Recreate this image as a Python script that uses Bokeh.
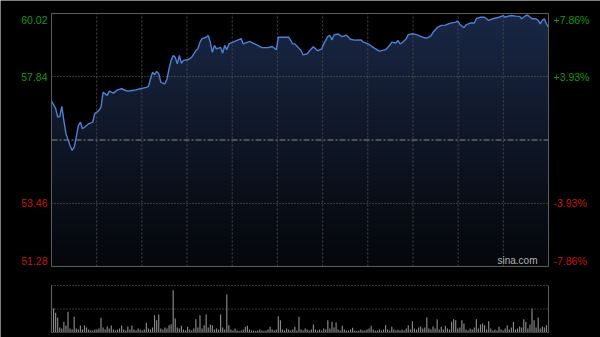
import numpy as np
from bokeh.plotting import figure
from bokeh.models import Range1d
from bokeh.core.properties import value
from bokeh.embed import file_html
from bokeh.resources import INLINE

# ---- data ----
prev_close = 55.65
price_ticks_left = [60.02, 57.84, 53.46, 51.28]
price_labels_left = ["60.02", "57.84", "53.46", "51.28"]
pct_labels_right = ["+7.86%", "+3.93%", "-3.93%", "-7.86%"]
label_colors = ["#0f9a0f", "#0f9a0f", "#c8140f", "#c8140f"]

minutes = [0, 2, 3, 4, 5, 6, 7, 9, 10, 11, 12, 13, 14, 15, 16, 18, 20, 21, 22, 23,
           24, 25, 27, 28, 30, 32, 34, 36, 37, 39, 41, 43, 46, 47, 48, 49, 50, 51, 52, 53,
           54, 55, 56, 57, 58, 59, 60, 61, 62, 63, 64, 66, 67, 68, 70, 71, 72, 73, 75, 76,
           77, 78, 79, 80, 82, 83, 84, 85, 86, 88, 92, 93, 96, 98, 100, 102, 105, 107, 109, 110,
           112, 115, 117, 118, 121, 122, 124, 126, 127, 129, 131, 132, 134, 135, 136, 137, 139, 141, 143, 145,
           147, 150, 151, 154, 156, 159, 162, 164, 165, 167, 168, 169, 170, 172, 173, 175, 177, 179, 181, 182,
           184, 185, 187, 189, 191, 193, 196, 197, 198, 200, 201, 203, 205, 206, 208, 210, 212, 214, 217, 219,
           220, 221, 223, 225, 227, 228, 230, 231, 233, 235, 236, 237, 238, 239, 240, 241]
prices = [56.99, 56.74, 56.44, 56.46, 56.81, 56.32, 55.87, 55.46, 55.29, 55.40, 55.75, 56.15, 56.27, 56.04, 56.09, 56.21, 56.27, 56.57, 56.61, 56.67,
          56.78, 57.30, 57.19, 57.34, 57.27, 57.38, 57.42, 57.36, 57.34, 57.36, 57.38, 57.42, 57.47, 57.50, 57.76, 57.99, 57.91, 58.02, 57.94, 57.65,
          57.61, 57.59, 57.76, 58.11, 58.40, 58.57, 58.51, 58.28, 58.57, 58.30, 58.40, 58.42, 58.46, 58.51, 58.74, 58.80, 59.03, 59.15, 59.20, 59.26,
          59.03, 58.68, 58.92, 58.80, 58.85, 58.65, 58.92, 58.77, 58.97, 59.03, 59.15, 58.97, 59.06, 58.99, 58.92, 58.84, 58.84, 58.88, 58.77, 59.20,
          59.20, 59.20, 58.97, 58.97, 58.74, 58.59, 58.63, 58.80, 58.87, 58.73, 58.80, 58.97, 59.23, 59.26, 59.11, 59.28, 59.31, 59.22, 59.27, 59.13,
          59.10, 59.11, 59.04, 58.95, 58.85, 58.72, 58.77, 58.92, 59.03, 59.00, 59.09, 58.97, 59.01, 59.15, 59.29, 59.32, 59.29, 59.23, 59.18, 59.17,
          59.25, 59.37, 59.53, 59.61, 59.62, 59.68, 59.72, 59.76, 59.65, 59.53, 59.63, 59.69, 59.69, 59.84, 59.89, 59.89, 59.78, 59.84, 59.89, 59.95,
          59.89, 59.92, 59.95, 59.93, 59.92, 59.84, 59.95, 59.96, 59.84, 59.84, 59.78, 59.66, 59.78, 59.84, 59.66, 59.55]

volume = [45, 24, 19.7, 14.7, 5, 4, 10.7, 7, 20.7, 4, 3, 15.7, 4, 3, 7, 3, 7, 5, 3, 2,
          2, 3, 3, 4, 14.7, 5, 3, 6, 4, 7, 3, 2, 3, 4, 7, 3, 2, 6, 3, 7,
          3, 2, 4, 3, 2, 3, 9.7, 4, 3, 5, 17.3, 12.3, 18, 4, 3, 5, 4, 7.3, 8.3, 42.3,
          14, 5, 4, 6.7, 3, 2, 5.7, 3, 2, 4, 13.3, 5, 17.3, 4, 7.3, 18, 5, 8, 7.3, 3,
          4, 3, 18, 5, 3, 38, 7.3, 3, 2, 4, 2, 1.5, 2, 3, 5.7, 6.7, 3, 2, 2, 1.5,
          2, 3, 2, 1.5, 2, 3, 5.7, 3, 2, 3, 16.3, 12.3, 3, 2, 4, 3, 2, 3, 5.7, 2,
          15.7, 3, 2, 4, 3, 2, 3, 8, 3, 2, 3, 2, 4, 3, 12.3, 4, 10.7, 5, 10, 3,
          2, 6.7, 3, 2, 2, 3, 4.7, 2, 1.5, 2, 3, 2, 2, 3, 4, 6.7, 3, 2, 2, 3,
          2, 3, 7.3, 3, 2, 5.7, 3, 2, 3, 2, 3, 2, 4, 7.3, 3, 11.3, 4, 3, 5, 6,
          4, 5, 15, 4, 3, 6, 4, 13.3, 3, 5.7, 3, 6.7, 4, 3, 10.7, 13.3, 12.3, 4, 5, 12.3,
          9, 3, 2, 4, 3, 5, 13.3, 4, 8, 9, 7.3, 3, 11.3, 4, 2, 3, 2, 5.7, 3, 2,
          4, 7.3, 3, 5, 10.7, 3, 4, 6, 5, 13.3, 10.7, 4, 8, 24, 12.3, 5, 15, 4, 6, 5,
          7.3, 6.7]
vol_minutes = list(range(len(volume)))

N_MIN = 241
Y_LO, Y_HI = 51.28, 60.02
VOL_MAX = 47
FONT = "Liberation Sans"

# ---- layout geometry (pixels of the 600x337 canvas) ----
W, H = 600, 337
PX_L, PX_R = 51, 548          # chart frame left/right
PX_T, PX_B = 13, 266          # price panel top/bottom
VPX_T, VPX_B = 285, 332       # volume panel top/bottom

mpp = N_MIN / (PX_R - PX_L)               # minutes per pixel
ppp = (Y_HI - Y_LO) / (PX_B - PX_T)       # price per pixel
vpp = VOL_MAX / (VPX_B - VPX_T)           # volume per pixel

x_rng = Range1d(-PX_L * mpp, N_MIN + (W - PX_R) * mpp)
y_rng = Range1d(Y_LO - (H - PX_B) * ppp, Y_HI + PX_T * ppp)
v_rng = Range1d(-(H - VPX_B) * vpp, VOL_MAX + VPX_T * vpp)

p = figure(width=W, height=H, output_backend="svg", toolbar_location=None,
           x_range=x_rng, y_range=y_rng,
           x_axis_location=None, y_axis_location=None,
           background_fill_color="black", border_fill_color="black",
           min_border=0)
p.extra_y_ranges = {"vol": v_rng}
p.grid.visible = False
p.outline_line_color = None

# vertical gradient under the price line (style only)
n_rows = 253
img = np.empty((n_rows, 1), dtype=np.uint32)
view = img.view(dtype=np.uint8).reshape((n_rows, 1, 4))
t = np.linspace(0, 1, n_rows)
top_c = np.array([26, 40, 70])
bot_c = np.array([5, 7, 11])
for k in range(3):
    view[:, 0, k] = (bot_c[k] + (top_c[k] - bot_c[k]) * t ** 1.1).astype(np.uint8)
view[:, 0, 3] = 255
p.image_rgba(image=[img], x=0, y=Y_LO, dw=N_MIN, dh=Y_HI - Y_LO)

# mask above the line
p.varea(x=minutes, y1=prices, y2=[Y_HI] * len(prices), fill_color="black")

# grid lines (price panel)
gx = [N_MIN * k / 11 for k in range(1, 11)]
p.segment(x0=gx, y0=[Y_LO] * len(gx), x1=gx, y1=[Y_HI] * len(gx),
          line_color="#474747", line_dash="2 2", line_width=1)
p.segment(x0=[0, 0], y0=[57.84, 53.46], x1=[N_MIN, N_MIN], y1=[57.84, 53.46],
          line_color="#6a6a6a", line_dash="1 2", line_width=1)
p.segment(x0=[0], y0=[prev_close], x1=[N_MIN], y1=[prev_close],
          line_color="#8a8a8a", line_dash="6 2 2 2", line_width=1)

p.line(minutes, prices, line_color="#4b82d6", line_width=1.4)

# frame of price panel
p.quad(left=0, right=N_MIN, bottom=Y_LO, top=Y_HI, fill_color=None,
       line_color="#5c5c5c", line_width=1)

# tick labels
offsets = [-6, 0, 0, 6]
for yv, lt, pt, c, off in zip(price_ticks_left, price_labels_left, pct_labels_right, label_colors, offsets):
    p.text(x=[0], y=[yv], text=[lt], x_offset=-4, y_offset=-off, text_align="right",
           text_baseline="middle", text_color=c, text_font=value(FONT), text_font_size="10.5px")
    p.text(x=[N_MIN], y=[yv], text=[pt], x_offset=5, y_offset=-off, text_align="left",
           text_baseline="middle", text_color=c, text_font=value(FONT), text_font_size="10.5px")

p.text(x=[N_MIN], y=[Y_LO], text=["sina.com"], x_offset=-11, y_offset=-1,
       text_align="right", text_baseline="bottom", text_color="#b4b4b4",
       text_font=value(FONT), text_font_size="10px")

# ---- volume panel ----
p.vbar(x=vol_minutes, top=volume, bottom=0, width=0.55, fill_color="#8c8c8c",
       line_color=None, y_range_name="vol")
p.segment(x0=[0, 0], y0=[VOL_MAX, VOL_MAX / 2], x1=[N_MIN, N_MIN], y1=[VOL_MAX, VOL_MAX / 2],
          line_color="#6a6a6a", line_dash="1 2", line_width=1, y_range_name="vol")
p.segment(x0=[0], y0=[0], x1=[N_MIN], y1=[0], line_color="#3a3a3a", line_width=1,
          y_range_name="vol")
p.segment(x0=[0, N_MIN], y0=[0, 0], x1=[0, N_MIN], y1=[VOL_MAX, VOL_MAX],
          line_color="#5c5c5c", line_width=1, y_range_name="vol")

open("out.html", "w").write(file_html(p, INLINE))
